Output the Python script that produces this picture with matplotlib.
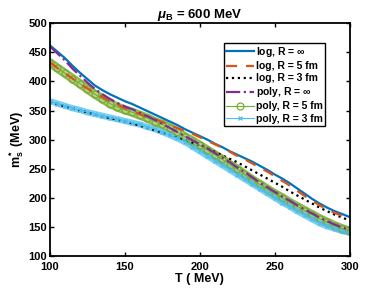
import numpy as np
import matplotlib
matplotlib.use('Agg')
import matplotlib.pyplot as plt

plt.rcParams['font.family'] = ['Liberation Sans', 'DejaVu Sans']
plt.rcParams['font.weight'] = 'bold'
plt.rcParams['mathtext.fontset'] = 'custom'
plt.rcParams['mathtext.rm'] = 'Liberation Sans:bold'
plt.rcParams['mathtext.bf'] = 'Liberation Sans:bold'
plt.rcParams['mathtext.it'] = 'Liberation Sans:italic:bold'

# temperature grid (MeV)
T = np.arange(100, 301, 5)

# effective strange quark mass (MeV)
log_inf = [462, 451, 440, 427, 415, 404, 393, 385, 378, 372, 366, 361, 355, 349, 343, 337, 331,
           325, 318, 312, 306, 300, 293, 287, 280, 274, 268, 262, 255, 248, 240, 233, 225, 216,
           207, 198, 190, 183, 177, 172, 167]
log_5 = [433, 423, 414, 405, 396, 388, 380, 373, 366, 360, 354, 349, 344, 339, 335, 330, 325,
         320, 315, 310, 304, 298, 292, 286, 279, 272, 266, 259, 252, 245, 237, 229, 221, 212,
         203, 195, 187, 180, 174, 169, 164]
log_3 = [365, 361, 357, 354, 350, 347, 343, 340, 337, 334, 331, 328, 324, 320, 316, 312, 308,
         304, 299, 295, 290, 285, 279, 273, 267, 261, 254, 247, 240, 233, 226, 219, 211, 204,
         197, 190, 183, 177, 171, 166, 161]
poly_inf = [460, 448, 436, 422, 410, 398, 387, 378, 370, 363, 357, 352, 346, 340, 334, 327, 320,
            313, 306, 299, 292, 285, 277, 269, 261, 252, 244, 235, 226, 218, 210, 202, 195, 187,
            180, 173, 166, 160, 154, 149, 145]
poly_5 = [432, 423, 414, 405, 396, 387, 378, 370, 362, 356, 351, 347, 342, 337, 331, 326, 320,
          313, 305, 298, 290, 282, 274, 266, 257, 249, 240, 231, 223, 215, 207, 200, 192, 185,
          178, 171, 164, 158, 152, 147, 143]
poly_3 = [366, 362, 358, 354, 351, 347, 344, 341, 338, 335, 332, 329, 326, 322, 318, 313, 308,
          302, 296, 288, 280, 272, 264, 256, 248, 240, 232, 224, 216, 208, 200, 192, 185, 177,
          170, 163, 156, 151, 147, 143, 140]

fig = plt.figure(figsize=(3.87, 2.90), dpi=100)
ax = fig.add_axes([0.129, 0.117, 0.775, 0.803])

# dense marker bands (the original has markers at every sample)
ax.plot(T, poly_5, '-', color='#77AC30', lw=6.5, alpha=0.85, solid_capstyle='round')
ax.plot(T, poly_5, '-', color='#b5d38c', lw=3.5, solid_capstyle='round')
ax.plot(T, poly_3, '-', color='#4DBEEE', lw=4.5, alpha=0.75, solid_capstyle='round')

ax.plot(T, poly_5, '-', color='#77AC30', lw=0.8, marker='o', ms=5, mfc='none', mew=0.9,
        label='poly, R = 5 fm', zorder=2.1)
ax.plot(T, poly_3, '-', color='#4DBEEE', lw=0.8, marker='x', ms=3.5, mew=0.9,
        label='poly, R = 3 fm', zorder=2.1)
ax.plot(T, log_inf, '-', color='#0072BD', lw=1.6, label=r'log, R = $\infty$', zorder=2.2)
ax.plot(T, log_5, '--', color='#D95319', lw=1.6, dashes=(5, 4), label='log, R = 5 fm', zorder=2.2)
ax.plot(T, log_3, ':', color='black', lw=1.6, label='log, R = 3 fm', zorder=2.0)
ax.plot(T, poly_inf, '-.', color='#7E2F8E', lw=1.6, label=r'poly, R = $\infty$', zorder=2.2)

ax.set_xlim(100, 300)
ax.set_ylim(100, 500)
ax.set_xticks([100, 150, 200, 250, 300])
ax.set_yticks([100, 150, 200, 250, 300, 350, 400, 450, 500])
ax.tick_params(direction='in', top=True, right=True, length=3, width=1, labelsize=8, pad=2)
ax.tick_params(axis='x', pad=4)
for s in ax.spines.values():
    s.set_linewidth(1.3)

ax.set_title(r'$\mu_{\mathbf{B}}$ = 600 MeV', fontsize=9.5, fontweight='bold', pad=4)
ax.set_xlabel('T ( MeV)', fontsize=9, fontweight='bold', labelpad=1)
ax.set_ylabel(r'm$^*_\mathbf{s}$ (MeV)', fontsize=9, fontweight='bold', labelpad=2)

h, l = ax.get_legend_handles_labels()
order = [l.index(s) for s in [r'log, R = $\infty$', 'log, R = 5 fm', 'log, R = 3 fm',
                              r'poly, R = $\infty$', 'poly, R = 5 fm', 'poly, R = 3 fm']]
leg = ax.legend([h[i] for i in order], [l[i] for i in order], loc='upper left',
                bbox_to_anchor=(0.58, 0.917), fontsize=7.5, numpoints=1,
                labelspacing=0.2, handlelength=2.6, handletextpad=0.2, borderpad=0.25,
                borderaxespad=0, fancybox=False, framealpha=1, edgecolor='black')
leg.get_frame().set_linewidth(1.0)

plt.savefig('out.png', dpi=100)
